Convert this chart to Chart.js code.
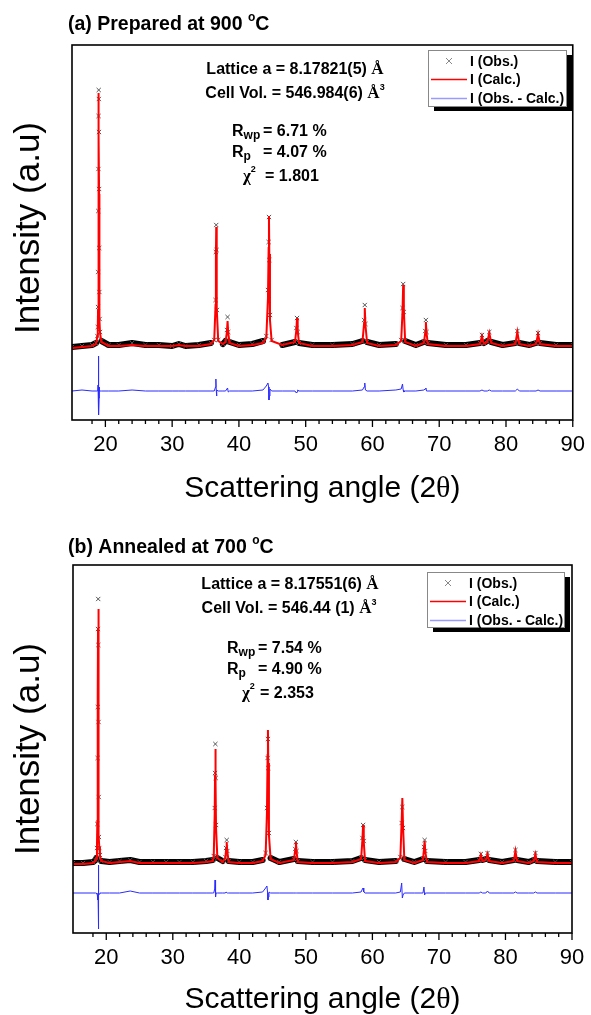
<!DOCTYPE html>
<html>
<head>
<meta charset="utf-8">
<script src="https://cdn.jsdelivr.net/npm/chart.js@4.4.1/dist/chart.umd.min.js"></script>
<style>
  html, body { margin: 0; padding: 0; background: #fff; }
  canvas { display: block; }
</style>
</head>
<body>
<canvas id="chartA" width="591" height="507"></canvas>
<canvas id="chartB" width="591" height="508"></canvas>
<script>
// ---- (a) prepared at 900 C : 2theta grid and intensities (arb. units) ----
const twoThetaA = [
  15.0, 16.5, 18.0, 18.6,
  18.8, 18.86, 18.9, 18.92, 18.94, 18.96, 18.98, 19.0, 19.02, 19.04, 19.06, 19.08, 19.1, 19.14, 19.2, 19.4,
  20.5, 22.0, 24.0, 26.0, 28.0, 30.0, 31.0, 32.0, 34.0, 35.8,
  36.3, 36.5, 36.55, 36.6, 36.65, 36.7, 36.9,
  37.6, 38.0, 38.2, 38.3, 38.4, 38.6,
  40.0, 42.0, 43.6, 44.1, 44.35, 44.45, 44.5, 44.55, 44.65, 44.9,
  46.5, 48.4, 48.6, 48.7, 48.8, 49.0,
  51.0, 54.0, 57.0, 58.5, 58.75, 58.85, 58.95, 59.2,
  61.0, 63.5, 64.3, 64.5, 64.6, 64.7, 64.9,
  66.5, 67.7, 67.9, 68.0, 68.1, 68.3,
  71.0, 74.0, 76.1, 76.4, 76.7, 77.2, 77.5, 77.8,
  79.5, 81.4, 81.7, 82.0, 83.5, 84.5, 84.8, 85.1, 87.5, 90.0
];
const obsA = [
  73, 74, 75, 77,
  84, 93, 113, 148, 209, 251, 304, 330, 321, 288, 231, 172, 128, 101, 88, 79,
  75, 75, 77, 75, 75, 74, 76, 74, 75, 77,
  80, 120, 168, 195, 170, 110, 80,
  76, 79, 90, 103, 88, 78,
  75, 76, 79, 84, 130, 178, 203, 160, 105, 80,
  75, 78, 92, 102, 88, 77,
  75, 75, 76, 79, 100, 115, 96, 78,
  75, 76, 80, 112, 136, 108, 79,
  75, 78, 89, 100, 88, 77,
  75, 75, 77, 85, 77, 79, 88, 78,
  75, 77, 89, 77, 75, 77, 87, 77, 75, 75
];
const calcA = [
  72, 73, 74, 76,
  84, 92, 110, 150, 212, 258, 308, 327, 318, 284, 226, 168, 125, 100, 87, 78,
  74, 74, 75, 74, 74, 74, 75, 74, 74, 76,
  80, 115, 160, 193, 165, 112, 79,
  76, 78, 88, 99, 87, 77,
  74, 75, 77, 82, 122, 172, 204, 166, 100, 79,
  75, 78, 90, 102, 89, 77,
  74, 74, 75, 78, 97, 112, 95, 77,
  74, 75, 79, 108, 135, 110, 78,
  74, 77, 87, 98, 87, 76,
  74, 74, 76, 84, 76, 78, 87, 77,
  74, 76, 88, 76, 74, 76, 86, 76, 74, 74
];
const diffA = [
  29, 30, 29, 29,
  29, 31, 35, 45, 64, 42, 34, 28, 10, 5, 22, 33, 30, 29, 29, 29,
  29, 29, 30, 29, 29, 29, 29, 29, 29, 29,
  29, 33, 41, 30, 24, 30, 29,
  29, 29, 31, 32, 28, 29,
  29, 29, 30, 34, 37, 33, 20, 24, 31, 29,
  29, 29, 27, 28, 30, 29,
  29, 29, 29, 30, 33, 37, 30, 29,
  29, 30, 31, 36, 30, 28, 29,
  29, 30, 31, 32, 29, 29,
  29, 29, 29, 30, 29, 29, 30, 29,
  29, 29, 31, 29, 29, 29, 30, 29, 29, 29
];

// ---- (b) annealed at 700 C ----
const twoThetaB = [
  15.0, 16.5, 18.0, 18.4,
  18.5, 18.6, 18.66, 18.7, 18.73, 18.76, 18.79, 18.81, 18.84, 18.87, 18.9, 18.95, 19.05, 19.25,
  20.5, 22.0, 23.6, 25.0, 27.0, 29.0, 31.0, 33.0, 35.0, 36.0,
  36.15, 36.3, 36.35, 36.4, 36.45, 36.5, 36.7,
  37.5, 37.9, 38.0, 38.1, 38.2, 38.4,
  40.0, 42.0, 43.5, 43.95, 44.15, 44.25, 44.3, 44.35, 44.45, 44.7,
  46.0, 48.2, 48.4, 48.5, 48.6, 48.8,
  51.0, 54.0, 57.0, 58.3, 58.5, 58.6, 58.7, 58.9,
  61.0, 63.5, 64.2, 64.4, 64.5, 64.6, 64.8,
  66.3, 67.6, 67.75, 67.85, 67.95, 68.2,
  71.0, 74.0, 76.05, 76.3, 76.55, 77.05, 77.3, 77.55,
  79.5, 81.25, 81.5, 81.75, 83.5, 84.25, 84.5, 84.75, 87.5, 90.0
];
const obsB = [
  70, 70, 71, 73,
  75, 85, 109, 175, 226, 304, 334, 288, 211, 136, 96, 85, 78, 72,
  71, 72, 73, 71, 71, 71, 71, 71, 72, 73,
  77, 125, 160, 189, 155, 108, 75,
  72, 76, 85, 93, 82, 72,
  71, 71, 73, 80, 125, 175, 194, 165, 100, 75,
  71, 74, 84, 91, 82, 72,
  71, 71, 72, 75, 95, 108, 92, 73,
  71, 72, 76, 110, 126, 105, 74,
  71, 74, 86, 93, 82, 72,
  71, 71, 73, 79, 73, 74, 80, 73,
  71, 73, 83, 73, 71, 73, 80, 72, 71, 71
];
const calcB = [
  69, 69, 70, 72,
  75, 86, 112, 180, 235, 305, 324, 290, 205, 130, 98, 86, 77, 72,
  70, 71, 72, 70, 70, 70, 70, 70, 71, 72,
  76, 120, 158, 184, 150, 105, 75,
  71, 75, 83, 91, 81, 71,
  70, 70, 72, 78, 120, 178, 203, 170, 98, 74,
  70, 73, 83, 91, 81, 71,
  70, 70, 71, 74, 93, 108, 91, 72,
  70, 71, 75, 112, 135, 108, 73,
  70, 73, 84, 92, 81, 71,
  70, 70, 72, 78, 72, 73, 79, 72,
  70, 72, 82, 72, 70, 72, 79, 71, 70, 70
];
const diffB = [
  40, 40, 40, 40,
  40, 40, 38, 36, 33, 40, 68, 20, 4, 47, 38, 39, 40, 40,
  40, 40, 42, 40, 40, 40, 40, 40, 40, 40,
  40, 44, 53, 42, 36, 40, 40,
  40, 40, 41, 41, 40, 40,
  40, 40, 41, 45, 47, 40, 33, 36, 41, 40,
  40, 40, 40, 40, 40, 40,
  40, 40, 40, 41, 44, 45, 41, 40,
  40, 40, 41, 50, 35, 38, 40,
  40, 40, 46, 38, 40, 40,
  40, 40, 40, 41, 40, 40, 42, 40,
  40, 40, 41, 40, 40, 40, 41, 40, 40, 40
];

const xTicksStep = 2;
const SANS = "'Liberation Sans', Arial, sans-serif";
const SERIF = "'Liberation Serif', 'Times New Roman', serif";
const f = (size, bold, fam) => (bold ? 'bold ' : '') + size + 'px ' + (fam || SANS);

function toPoints(xs, ys) {
  return xs.map((x, i) => ({ x: x, y: ys[i] }));
}

// draw a run of text pieces: [text, font, dy, absoluteX]
function drawRich(ctx, parts, x, y, align) {
  let w = 0;
  parts.forEach(p => { ctx.font = p[1]; w += ctx.measureText(p[0]).width; });
  let cx = align === 'center' ? x - w / 2 : x;
  ctx.textAlign = 'left';
  ctx.textBaseline = 'alphabetic';
  parts.forEach(p => {
    if (p[3] !== undefined) cx = p[3];
    ctx.font = p[1];
    ctx.fillText(p[0], cx, y + (p[2] || 0));
    cx += ctx.measureText(p[0]).width;
  });
}

const decor = {
  id: 'decor',
  afterDraw(chart, args, o) {
    const ctx = chart.ctx, a = chart.chartArea, xs = chart.scales.x;
    ctx.save();
    ctx.fillStyle = '#000';
    ctx.strokeStyle = '#000';

    // plot frame
    ctx.lineWidth = 1.6;
    ctx.strokeRect(a.left, a.top, a.right - a.left, a.bottom - a.top);

    // outward ticks, long on the labelled ones
    ctx.lineWidth = 1.3;
    xs.ticks.forEach(t => {
      if (t.value % xTicksStep !== 0) return;
      const x = xs.getPixelForValue(t.value);
      const len = t.value % 10 === 0 ? 7 : 4;
      ctx.beginPath();
      ctx.moveTo(x, a.bottom);
      ctx.lineTo(x, a.bottom + len);
      ctx.stroke();
    });

    // axis titles
    drawRich(ctx, [['Scattering angle (2', f(30)], ['\u03b8', f(30, false, SERIF)], [')', f(30)]],
      (a.left + a.right) / 2, o.xTitleY, 'center');
    ctx.save();
    ctx.translate(o.yTitleX, o.yTitleMid);
    ctx.rotate(-Math.PI / 2);
    drawRich(ctx, [['Intensity (a.u)', f(35)]], 0, 0, 'center');
    ctx.restore();

    // panel title
    drawRich(ctx, [[o.title, f(19.5, true)], ['o', f(12, true), -9], ['C', f(19.5, true)]], o.titleX, o.titleY, 'left');

    // refinement results
    o.notes.forEach(n => drawRich(ctx, n.parts, n.x, n.y, n.align));

    // legend box with drop shadow
    const L = o.legend;
    ctx.fillStyle = '#000';
    ctx.fillRect(L.x + 6, L.y + 5, L.w, L.h);
    ctx.fillStyle = '#fff';
    ctx.fillRect(L.x, L.y, L.w, L.h);
    ctx.strokeStyle = '#888';
    ctx.lineWidth = 1;
    ctx.strokeRect(L.x + 0.5, L.y + 0.5, L.w, L.h);
    const ds = chart.data.datasets;
    const rows = [ds[1], ds[0], ds[2]];
    const rowY = [L.y + 11, L.y + 29.5, L.y + 48.5];
    rows.forEach((d, i) => {
      const y = rowY[i];
      if (d.pointStyle === 'crossRot') {
        ctx.strokeStyle = '#888';
        ctx.lineWidth = 1;
        ctx.beginPath();
        ctx.moveTo(L.x + 18, y - 3); ctx.lineTo(L.x + 24, y + 3);
        ctx.moveTo(L.x + 24, y - 3); ctx.lineTo(L.x + 18, y + 3);
        ctx.stroke();
      } else {
        ctx.strokeStyle = d.legendColor;
        ctx.lineWidth = 1.6;
        ctx.beginPath();
        ctx.moveTo(L.x + 3, y);
        ctx.lineTo(L.x + 39, y);
        ctx.stroke();
      }
      ctx.fillStyle = '#000';
      ctx.font = f(14, true);
      ctx.textBaseline = 'middle';
      ctx.textAlign = 'left';
      ctx.fillText(d.label, L.x + 42, y + 1);
    });
    ctx.restore();
  }
};

function buildChart(id, p) {
  const band = p.bandTop;
  return new Chart(document.getElementById(id), {
    type: 'line',
    data: {
      datasets: [
        {
          label: 'I (Calc.)',
          data: toPoints(p.angle, p.calc),
          borderColor: '#ff0000',
          legendColor: '#ff0000',
          borderWidth: 2,
          pointRadius: 0,
          tension: 0
        },
        {
          label: 'I (Obs.)',
          data: toPoints(p.angle, p.obs),
          borderColor: '#000',
          borderWidth: 6,
          borderJoinStyle: 'round',
          borderCapStyle: 'round',
          segment: {
            borderColor: c => Math.max(c.p0.parsed.y, c.p1.parsed.y) < band ? '#000' : 'rgba(0,0,0,0)'
          },
          pointStyle: 'crossRot',
          pointRadius: 3,
          pointBorderColor: '#555',
          pointBackgroundColor: 'rgba(0,0,0,0)',
          pointBorderWidth: 1,
          tension: 0
        },
        {
          label: 'I (Obs. - Calc.)',
          data: toPoints(p.angle, p.diff),
          borderColor: '#2b2bff',
          legendColor: '#9b9bff',
          borderWidth: 1,
          pointRadius: 0,
          tension: 0
        }
      ]
    },
    options: {
      responsive: false,
      animation: false,
      devicePixelRatio: 1,
      layout: { padding: { left: p.left, right: p.right, top: p.top, bottom: 0 } },
      plugins: {
        legend: { display: false },
        tooltip: { enabled: false },
        decor: p.decor
      },
      scales: {
        x: {
          type: 'linear',
          min: 15,
          max: 90,
          afterFit: s => { s.height = p.axisHeight; },
          border: { display: false },
          grid: { display: true, drawOnChartArea: false, drawTicks: true, tickLength: 6, color: 'rgba(0,0,0,0)' },
          ticks: {
            stepSize: xTicksStep,
            autoSkip: false,
            maxRotation: 0,
            padding: 6,
            color: '#000',
            font: { family: SANS, size: 22 },
            callback: v => (v % 10 === 0 ? String(v) : '')
          }
        },
        y: { display: false, min: 0, max: p.yMax }
      }
    },
    plugins: [decor]
  });
}

buildChart('chartA', {
  angle: twoThetaA, obs: obsA, calc: calcA, diff: diffA,
  bandTop: 80, left: 72, right: 13, top: 45, axisHeight: 87, yMax: 375,
  decor: {
    xTitleY: 497, yTitleX: 39, yTitleMid: 228,
    title: '(a) Prepared at 900 ', titleX: 68, titleY: 30,
    legend: { x: 428, y: 50, w: 138, h: 56 },
    notes: [
      { align: 'center', x: 295, y: 74, parts: [['Lattice a = 8.17821(5) ', f(16, true)], ['\u00c5', f(17, true, SERIF)]] },
      { align: 'center', x: 295, y: 98, parts: [['Cell Vol. = 546.984(6) ', f(16, true)], ['\u00c5', f(17, true, SERIF)], ['3', f(9, true), -8]] },
      { align: 'left', x: 232, y: 136, parts: [['R', f(16, true)], ['wp', f(12, true), 3], ['= 6.71 %', f(16, true), 0, 263]] },
      { align: 'left', x: 232, y: 157, parts: [['R', f(16, true)], ['p', f(12, true), 3], ['= 4.07 %', f(16, true), 0, 263]] },
      { align: 'left', x: 243, y: 181, parts: [['\u03c7', f(17, true, SERIF)], ['2', f(9, true), -9], ['= 1.801', f(16, true), 0, 265]] }
    ]
  }
});

buildChart('chartB', {
  angle: twoThetaB, obs: obsB, calc: calcB, diff: diffB,
  bandTop: 76, left: 73, right: 19, top: 58, axisHeight: 82, yMax: 368,
  decor: {
    xTitleY: 501, yTitleX: 39, yTitleMid: 242,
    title: '(b) Annealed at 700 ', titleX: 68, titleY: 46,
    legend: { x: 427, y: 65, w: 137, h: 55 },
    notes: [
      { align: 'center', x: 290, y: 82, parts: [['Lattice a = 8.17551(6) ', f(16, true)], ['\u00c5', f(17, true, SERIF)]] },
      { align: 'center', x: 289, y: 106, parts: [['Cell Vol. = 546.44 (1) ', f(16, true)], ['\u00c5', f(17, true, SERIF)], ['3', f(9, true), -8]] },
      { align: 'left', x: 227, y: 146, parts: [['R', f(16, true)], ['wp', f(12, true), 3], ['= 7.54 %', f(16, true), 0, 258]] },
      { align: 'left', x: 227, y: 167, parts: [['R', f(16, true)], ['p', f(12, true), 3], ['= 4.90 %', f(16, true), 0, 258]] },
      { align: 'left', x: 242, y: 191, parts: [['\u03c7', f(17, true, SERIF)], ['2', f(9, true), -9], ['= 2.353', f(16, true), 0, 260]] }
    ]
  }
});
</script>
</body>
</html>
